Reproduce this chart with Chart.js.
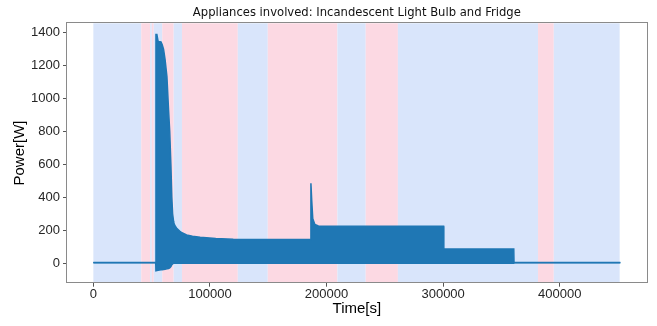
<!DOCTYPE html>
<html>
<head>
<meta charset="utf-8">
<script src="https://cdn.jsdelivr.net/npm/chart.js@4.4.1/dist/chart.umd.min.js"></script>
<style>
  html, body { margin: 0; padding: 0; background: #ffffff; }
  #wrap { width: 657px; height: 326px; }
</style>
</head>
<body>
<div id="wrap"><canvas id="c" width="657" height="326"></canvas></div>
<script>
// ---- data ----
const chartTitle = 'Appliances involved: Incandescent Light Bulb and Fridge';
const xLabel = 'Time[s]';
const yLabel = 'Power[W]';

// sample times of the signal envelope [s]
const envTime  = [0, 53500, 53700, 54500, 55500, 56000, 58000, 59000, 60200, 61500,
                  63100, 64500, 65500, 66500, 67300, 68000, 68800, 69000, 70000, 71700,
                  74000, 76000, 80000, 85000, 91600, 105000, 120000, 150000, 186300, 186600,
                  187300, 188200, 190000, 193000, 250000, 300400, 300600, 360600, 360800, 452000];
// upper envelope of the power signal [W]
const envUpper = [5, 5, 1385, 1385, 1345, 1343, 1340, 1325, 1297, 1235,
                  1131, 930, 800, 600, 400, 300, 255, 245, 228, 210,
                  195, 185, 172, 164, 158, 150, 146, 144, 145, 485,
                  380, 270, 235, 226, 224, 224, 87, 87, 5, 5];
// lower envelope of the power signal [W]
const envLower = [3, 3, -45, -44, -42, -42, -39, -38, -37, -35,
                  -33, -31, -28, -20, -8, -3, 0, 0, 0, 0,
                  0, 0, 0, 0, 0, 0, 0, 0, 0, 0,
                  0, 0, 0, 0, 0, 0, 0, 0, 3, 3];

// shaded spans (b = blue, p = pink)
const bandStart = [0, 41100, 48800, 50100, 51800, 59100, 68900, 76000, 123900, 149600, 209300, 233600, 261200, 381400, 394900];
const bandEnd   = [41100, 48800, 50100, 51800, 59100, 68900, 76000, 123900, 149600, 209300, 233600, 261200, 381400, 394900, 451400];
const bandKind  = ['b', 'p', 'b', 'p', 'b', 'p', 'b', 'p', 'b', 'p', 'b', 'p', 'b', 'p', 'b'];

const xTickValues = [0, 100000, 200000, 300000, 400000];
const yTickValues = [0, 200, 400, 600, 800, 1000, 1200, 1400];

// ---- styling ----
const bandColors = { b: '#d9e5fb', p: '#fcd9e3' };
const lineColor = '#1f77b4';
const frameColor = '#8a8a8a';

const upperData = envTime.map((t, i) => ({ x: t, y: envUpper[i] }));
const lowerData = envTime.map((t, i) => ({ x: t, y: envLower[i] }));

const bandPlugin = {
  id: 'bands',
  beforeDatasetsDraw(chart) {
    const { ctx, chartArea, scales } = chart;
    ctx.save();
    for (let i = 0; i < bandStart.length; i++) {
      const x0 = scales.x.getPixelForValue(bandStart[i]);
      const x1 = scales.x.getPixelForValue(bandEnd[i]);
      ctx.fillStyle = bandColors[bandKind[i]];
      ctx.fillRect(x0, chartArea.top, x1 - x0, chartArea.bottom - chartArea.top);
    }
    ctx.restore();
  }
};

const framePlugin = {
  id: 'frame',
  afterDatasetsDraw(chart) {
    const { ctx, chartArea } = chart;
    ctx.save();
    ctx.strokeStyle = frameColor;
    ctx.lineWidth = 1;
    ctx.strokeRect(Math.round(chartArea.left) - 0.5, Math.round(chartArea.top) - 0.5,
                   Math.round(chartArea.right - chartArea.left) + 1, Math.round(chartArea.bottom - chartArea.top) + 1);
    ctx.restore();
  }
};

const titlePlugin = {
  id: 'centeredTitle',
  afterDraw(chart) {
    const { ctx, chartArea } = chart;
    ctx.save();
    ctx.font = '11.6px "DejaVu Sans"';
    ctx.fillStyle = '#111111';
    ctx.textAlign = 'center';
    ctx.textBaseline = 'middle';
    ctx.fillText(chartTitle, (chartArea.left + chartArea.right) / 2, 13);
    ctx.restore();
  }
};

new Chart(document.getElementById('c'), {
  type: 'line',
  data: {
    datasets: [
      {
        data: upperData,
        borderColor: lineColor,
        backgroundColor: lineColor,
        borderWidth: 1.5,
        pointRadius: 0,
        tension: 0,
        fill: '+1'
      },
      {
        data: lowerData,
        borderColor: lineColor,
        backgroundColor: lineColor,
        borderWidth: 1.5,
        pointRadius: 0,
        tension: 0,
        fill: false
      }
    ]
  },
  options: {
    responsive: false,
    animation: false,
    layout: { padding: { top: 23.3, right: 10.3, left: 0, bottom: 0 } },
    plugins: {
      legend: { display: false },
      title: { display: false },
      tooltip: { enabled: false }
    },
    scales: {
      x: {
        type: 'linear',
        min: -22600,
        max: 474600,
        afterBuildTicks(scale) { scale.ticks = xTickValues.map(v => ({ value: v })); },
        afterFit(scale) { scale.height = 43.3; },
        border: { display: false },
        grid: { display: true, drawOnChartArea: false, drawTicks: true, tickLength: 4, tickColor: '#555555' },
        ticks: {
          color: '#262626',
          font: { family: '"Liberation Sans", Arial, sans-serif', size: 13 },
          padding: 0,
          maxRotation: 0,
          autoSkip: false,
          callback: (v) => String(v)
        },
        title: {
          display: true,
          text: xLabel,
          color: '#000000',
          font: { family: '"Liberation Sans", Arial, sans-serif', size: 15 },
          padding: { top: 0, bottom: 8 }
        }
      },
      y: {
        type: 'linear',
        min: -117,
        max: 1453,
        afterBuildTicks(scale) { scale.ticks = yTickValues.map(v => ({ value: v })); },
        afterFit(scale) { scale.width = 67; },
        border: { display: false },
        grid: { display: true, drawOnChartArea: false, drawTicks: true, tickLength: 4, tickColor: '#555555' },
        ticks: {
          color: '#262626',
          font: { family: '"Liberation Sans", Arial, sans-serif', size: 13 },
          padding: 3,
          autoSkip: false,
          callback: (v) => String(v)
        },
        title: {
          display: true,
          text: yLabel,
          color: '#000000',
          font: { family: '"Liberation Sans", Arial, sans-serif', size: 15 },
          padding: { top: 11, bottom: 0 }
        }
      }
    }
  },
  plugins: [bandPlugin, framePlugin, titlePlugin]
});
</script>
</body>
</html>
